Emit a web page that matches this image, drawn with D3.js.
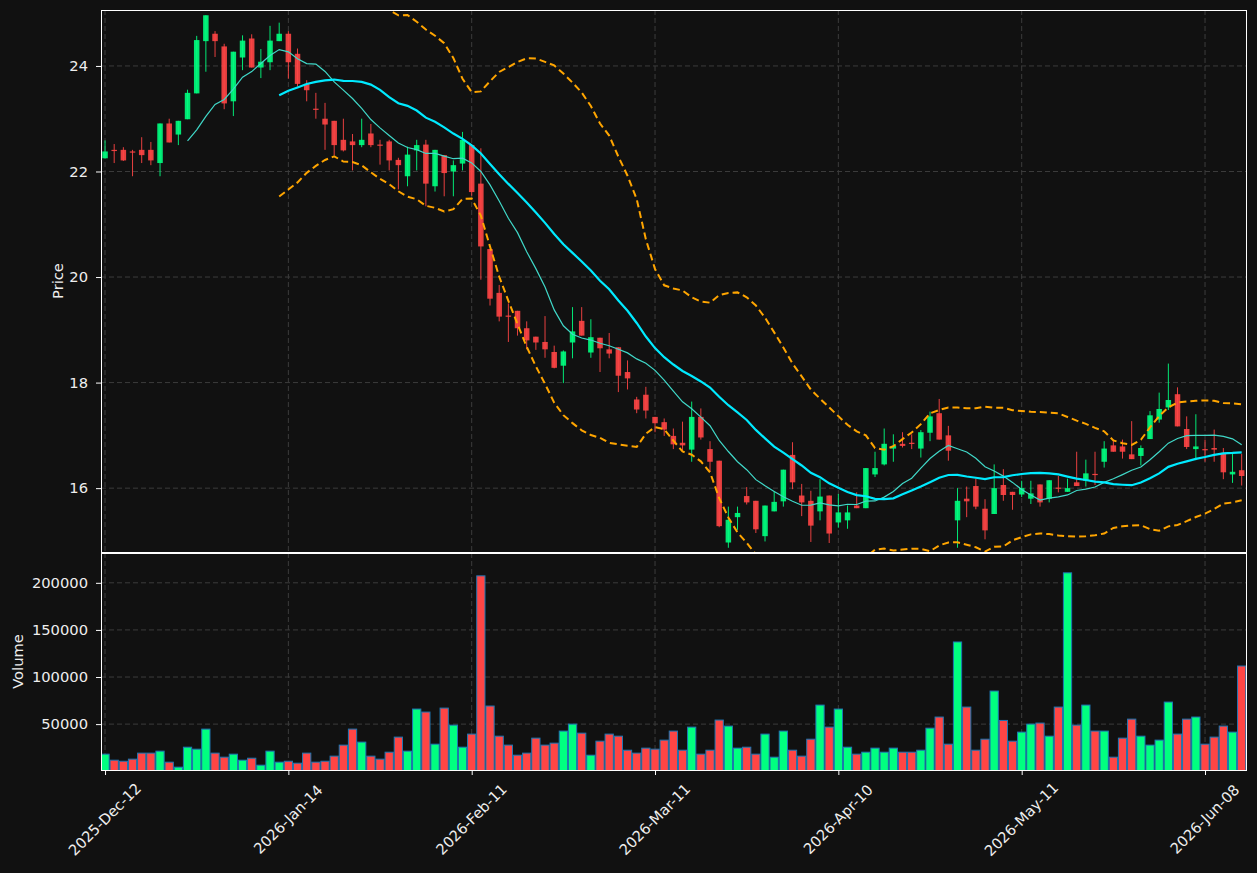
<!DOCTYPE html>
<html>
<head>
<meta charset="utf-8">
<script src="https://cdn.jsdelivr.net/npm/d3@7"></script>
<style>
  html, body { margin: 0; padding: 0; background: #111111; }
  svg { display: block; font-family: "DejaVu Sans", sans-serif; }
</style>
</head>
<body>
<div id="chart"></div>
<script>
// OHLC + volume, one entry per trading day
var opens = [22.25,22.41,22.41,22.38,22.41,22.41,22.16,22.91,22.70,22.99,
  23.48,24.47,24.61,24.37,23.33,24.16,24.52,23.97,24.07,24.47,
  24.61,24.23,23.66,23.19,23.00,22.96,22.60,22.57,22.50,22.72,
  22.51,22.57,22.22,21.91,22.40,22.51,21.72,22.31,22.00,22.15,
  22.50,21.77,20.53,19.70,19.27,19.36,19.03,18.87,18.77,18.58,
  18.32,18.76,19.17,18.57,18.85,18.63,18.67,18.20,17.68,17.77,
  17.35,17.25,16.99,16.86,16.73,17.35,16.74,16.52,14.97,15.45,
  15.85,15.76,15.09,15.56,15.75,16.63,15.86,15.76,15.56,15.86,
  15.35,15.39,15.67,15.62,16.26,16.45,16.75,16.84,16.86,16.75,
  17.05,17.42,17.00,15.39,15.80,16.04,15.61,15.51,16.06,15.93,
  15.88,15.80,16.07,15.80,16.01,15.93,16.11,16.14,16.27,16.50,
  16.81,16.79,16.64,16.61,16.93,17.30,17.53,17.78,17.12,16.74,
  16.74,16.76,16.67,16.26,16.34];
var highs = [22.59,22.52,22.46,22.41,22.65,22.56,22.91,23.00,22.96,23.55,
  24.57,24.96,24.66,24.42,24.27,24.58,24.60,24.32,24.76,24.82,
  24.66,24.33,23.73,23.49,23.30,22.96,23.00,22.71,23.00,22.90,
  22.60,22.60,22.26,22.47,22.60,22.60,22.41,22.31,22.21,22.75,
  22.50,22.44,20.53,19.85,19.50,19.36,19.16,18.87,19.26,18.70,
  18.61,19.43,19.43,19.20,18.85,18.94,18.67,18.42,17.73,17.92,
  17.35,17.32,17.13,17.26,17.64,17.51,16.89,16.52,15.65,15.65,
  16.02,15.76,15.67,15.94,16.35,16.87,16.08,15.95,16.17,15.86,
  15.89,15.67,15.92,16.38,16.69,17.13,17.02,17.06,17.02,17.10,
  17.45,17.69,17.18,16.00,16.03,16.18,15.79,16.45,16.36,15.93,
  16.14,16.14,16.07,16.15,16.23,16.18,16.69,16.54,16.69,16.89,
  16.92,16.92,17.27,16.81,17.46,17.81,18.36,17.91,17.36,17.40,
  16.92,17.11,16.76,16.66,16.65];
var lows = [22.25,22.16,22.20,21.91,22.16,22.12,21.91,22.55,22.50,22.99,
  23.48,23.89,24.17,23.18,23.05,23.92,23.97,23.77,23.92,24.47,
  23.76,23.61,23.33,23.00,22.41,22.31,22.38,22.02,22.46,22.46,
  22.13,22.02,21.66,21.72,22.02,21.34,21.62,21.53,21.53,22.02,
  21.54,19.95,19.46,19.16,18.77,18.89,18.63,18.62,18.47,18.27,
  17.99,18.46,18.89,18.47,18.20,18.46,17.82,17.87,17.42,17.32,
  17.06,16.99,16.74,16.72,16.50,16.92,16.31,15.26,14.87,15.21,
  15.69,15.15,14.99,15.56,15.65,15.98,15.47,14.98,15.39,14.96,
  15.25,15.23,15.62,15.62,16.21,16.43,16.50,16.77,16.74,16.58,
  16.89,16.92,16.52,14.87,15.45,15.60,15.03,15.51,15.76,15.59,
  15.83,15.70,15.65,15.73,15.92,15.93,16.04,16.03,16.06,16.39,
  16.69,16.56,16.55,16.43,16.93,17.24,17.48,17.17,16.74,16.53,
  16.50,16.50,16.17,16.10,16.05];
var closes = [22.38,22.40,22.21,22.36,22.31,22.21,22.91,22.55,22.96,23.49,
  24.49,24.96,24.47,23.29,24.27,24.48,23.97,24.08,24.48,24.61,
  24.07,23.66,23.54,23.18,22.89,22.50,22.40,22.50,22.60,22.50,
  22.50,22.21,22.12,22.32,22.50,21.77,22.41,21.97,22.12,22.60,
  21.61,20.58,19.59,19.25,19.25,19.03,18.80,18.76,18.63,18.28,
  18.59,18.97,18.89,18.86,18.65,18.55,18.13,18.08,17.49,17.47,
  17.23,17.11,16.83,16.81,17.35,16.96,16.50,15.28,15.40,15.53,
  15.73,15.22,15.67,15.74,16.35,16.11,15.73,15.29,15.84,15.14,
  15.54,15.54,15.62,16.38,16.38,16.84,16.80,16.80,16.84,17.06,
  17.36,16.92,16.71,15.76,15.75,15.65,15.20,16.00,15.87,15.87,
  16.00,15.90,15.73,16.15,15.99,16.00,16.04,16.28,16.25,16.75,
  16.69,16.69,16.55,16.76,17.38,17.50,17.67,17.17,16.78,16.79,
  16.72,16.73,16.30,16.31,16.23];
var volumes = [18100,11700,10600,12800,19200,19200,21300,9600,4300,25500,
  23400,44700,19200,14900,18100,11700,13800,6400,21300,9600,
  10600,8500,19200,9600,10600,16000,27700,44700,30900,16000,
  12800,20200,36200,21300,66000,62800,28700,67000,48900,25500,
  39400,207400,69200,37200,27700,17000,19200,35100,27700,29800,
  42600,50000,40400,17000,31900,39400,37200,22300,19200,24500,
  23400,33000,42600,22300,46800,18100,22300,54300,47900,24500,
  25500,18100,39400,14900,42600,22300,16000,34000,70200,46800,
  66000,25500,18100,20200,24500,20200,24500,20200,20200,22300,
  45700,57500,28700,137200,68100,22300,34000,85100,53900,31900,
  41500,50000,51100,37200,68100,210600,48900,70200,42600,42600,
  14900,35100,55300,37200,27700,33000,73400,39400,55300,57500,
  28700,36200,47900,41500,111700];

// x tick positions (bar index) and their labels
var tickIndex = [0, 20, 40, 60, 80, 100, 120];
var tickLabels = ["2025-Dec-12", "2026-Jan-14", "2026-Feb-11", "2026-Mar-11",
                  "2026-Apr-10", "2026-May-11", "2026-Jun-08"];
var priceTicks = [16, 18, 20, 22, 24];
var volumeTicks = [50000, 100000, 150000, 200000];

var upColor = "#00ff80", downColor = "#ff4545";
var gridColor = "#3c3c3c", textColor = "#eeeeee";
var fontSize = "14.7px";

var width = 1257, height = 873;
var left = 101, right = 1247;
var pTop = 10, pBottom = 552, vTop = 553, vBottom = 770;

var svg = d3.select("#chart").append("svg")
    .attr("width", width)
    .attr("height", height);

svg.append("rect").attr("width", width).attr("height", height).attr("fill", "#111111");

var n = closes.length;
var idx = d3.range(n);
var x = d3.scaleLinear().domain([-0.44, n - 0.42]).range([left, right]);
var step = x(1) - x(0);

var y = d3.scaleLinear()
    .domain([d3.min(lows) - 0.08, d3.max(highs) + 0.1])
    .range([pBottom, pTop]);
var yv = d3.scaleLinear()
    .domain([0.3 * d3.min(volumes), 1.1 * d3.max(volumes)])
    .range([vBottom, vTop]);

// moving averages and bollinger bands from closes
function rolling(len, fn) {
    return idx.map(function(i) {
        if (i < len - 1) return null;
        return fn(closes.slice(i - len + 1, i + 1));
    });
}
var ma10 = rolling(10, d3.mean);
var ma20 = rolling(20, d3.mean);
var sd20 = rolling(20, function(a) {
    var m = d3.mean(a);
    return Math.sqrt(d3.mean(a, function(v) { return (v - m) * (v - m); }));
});
var upper = idx.map(function(i) { return ma20[i] == null ? null : ma20[i] + 2 * sd20[i]; });
var lower = idx.map(function(i) { return ma20[i] == null ? null : ma20[i] - 2 * sd20[i]; });

var defs = svg.append("defs");
defs.append("clipPath").attr("id", "clipP").append("rect")
    .attr("x", left).attr("y", pTop).attr("width", right - left).attr("height", pBottom - pTop);
defs.append("clipPath").attr("id", "clipV").append("rect")
    .attr("x", left).attr("y", vTop).attr("width", right - left).attr("height", vBottom - vTop);

// grid
function grid(g, top, bottom, yScale, ticks) {
    g.selectAll(".vg").data(tickIndex).enter().append("line")
        .attr("x1", function(d) { return x(d); }).attr("x2", function(d) { return x(d); })
        .attr("y1", top).attr("y2", bottom);
    g.selectAll(".hg").data(ticks).enter().append("line")
        .attr("x1", left).attr("x2", right)
        .attr("y1", function(d) { return yScale(d); }).attr("y2", function(d) { return yScale(d); });
    g.selectAll("line").attr("stroke", gridColor).attr("stroke-width", 1).attr("stroke-dasharray", "5,3");
}
grid(svg.append("g"), pTop, pBottom, y, priceTicks);
grid(svg.append("g"), vTop, vBottom, yv, volumeTicks);

// candles
var candles = svg.append("g").attr("clip-path", "url(#clipP)");
function col(i) { return closes[i] >= opens[i] ? upColor : downColor; }

candles.selectAll(".wick").data(idx).enter().append("line")
    .attr("x1", function(i) { return x(i); }).attr("x2", function(i) { return x(i); })
    .attr("y1", function(i) { return y(highs[i]); })
    .attr("y2", function(i) { return y(lows[i]); })
    .attr("stroke", col).attr("stroke-opacity", 0.9).attr("stroke-width", 1);

var bodyW = 5.5;
candles.selectAll(".body").data(idx).enter().append("rect")
    .attr("x", function(i) { return x(i) - bodyW / 2; })
    .attr("width", bodyW)
    .attr("y", function(i) { return y(Math.max(opens[i], closes[i])); })
    .attr("height", function(i) { return Math.max(1.2, Math.abs(y(opens[i]) - y(closes[i]))); })
    .attr("fill", col).attr("fill-opacity", 0.9);

// indicator lines
function drawLine(values, color, w, dash) {
    var line = d3.line()
        .defined(function(i) { return values[i] != null; })
        .x(function(i) { return x(i); })
        .y(function(i) { return y(values[i]); });
    candles.append("path").datum(idx)
        .attr("d", line)
        .attr("fill", "none")
        .attr("stroke", color)
        .attr("stroke-width", w)
        .attr("stroke-dasharray", dash || null);
}
drawLine(ma10, "#40d8c8", 1.2);
drawLine(ma20, "#00eaff", 2.2);
drawLine(upper, "#ffa500", 2, "7,4");
drawLine(lower, "#ffa500", 2, "7,4");

// volume bars
var vol = svg.append("g").attr("clip-path", "url(#clipV)");
var barW = step * 0.9;
vol.selectAll(".vbar").data(idx).enter().append("rect")
    .attr("x", function(i) { return x(i) - barW / 2; })
    .attr("width", barW)
    .attr("y", function(i) { return yv(volumes[i]); })
    .attr("height", function(i) { return vBottom + 5 - yv(volumes[i]); })
    .attr("fill", col)
    .attr("stroke", "#1f77b4")
    .attr("stroke-width", 1);

// axes
function styleAxis(g) {
    g.select(".domain").remove();
    g.selectAll(".tick line").attr("stroke", "#ffffff");
    g.selectAll(".tick text").attr("fill", textColor).style("font-size", fontSize)
        .style("font-family", "DejaVu Sans, sans-serif");
}
svg.append("g").attr("transform", "translate(" + left + ",0)")
    .call(d3.axisLeft(y).tickValues(priceTicks).tickSize(5).tickPadding(8).tickFormat(d3.format("d")))
    .call(styleAxis);
svg.append("g").attr("transform", "translate(" + left + ",0)")
    .call(d3.axisLeft(yv).tickValues(volumeTicks).tickSize(5).tickPadding(8).tickFormat(d3.format("d")))
    .call(styleAxis);

var xAxis = svg.append("g").attr("transform", "translate(0," + vBottom + ")")
    .call(d3.axisBottom(x).tickValues(tickIndex).tickSize(5)
        .tickFormat(function(d, k) { return tickLabels[k]; }))
    .call(styleAxis);
xAxis.selectAll(".tick text")
    .attr("y", 0).attr("dy", null)
    .attr("text-anchor", "middle")
    .attr("dominant-baseline", "central")
    .attr("transform", "translate(-1,49) rotate(-45)");

// panel borders
svg.append("rect").attr("x", left + 0.5).attr("y", pTop + 0.5)
    .attr("width", right - left - 1).attr("height", pBottom - pTop)
    .attr("fill", "none").attr("stroke", "#ffffff").attr("stroke-width", 1);
svg.append("rect").attr("x", left + 0.5).attr("y", vTop + 0.5)
    .attr("width", right - left - 1).attr("height", vBottom - vTop)
    .attr("fill", "none").attr("stroke", "#ffffff").attr("stroke-width", 1);

// axis titles
svg.append("text")
    .attr("transform", "translate(57," + (pTop + pBottom) / 2 + ") rotate(-90)")
    .attr("text-anchor", "middle").attr("dominant-baseline", "central")
    .attr("fill", textColor).style("font-size", fontSize)
    .text("Price");
svg.append("text")
    .attr("transform", "translate(17," + (vTop + vBottom) / 2 + ") rotate(-90)")
    .attr("text-anchor", "middle").attr("dominant-baseline", "central")
    .attr("fill", textColor).style("font-size", fontSize)
    .text("Volume");
</script>
</body>
</html>
